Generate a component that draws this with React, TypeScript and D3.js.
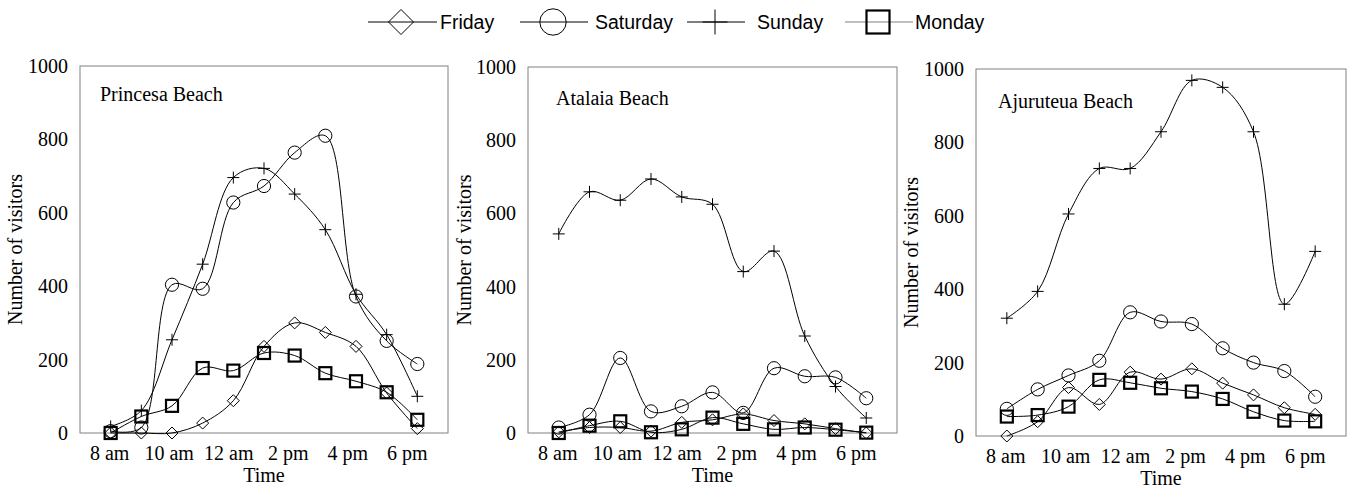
import React from "react";
import * as d3 from "d3";

const hours = ["8", "9", "10", "11", "12", "13", "14", "15", "16", "17", "18"];
const tickLabels = ["8 am", "10 am", "12 am", "2 pm", "4 pm", "6 pm"];
const yTicks = [0, 200, 400, 600, 800, 1000];
const seriesNames = ["Friday", "Saturday", "Sunday", "Monday"];
const beachNames = ["Princesa Beach", "Atalaia Beach", "Ajuruteua Beach"];

// Princesa Beach
const princesaFriday = [0, 0, 0, 27, 88, 236, 300, 274, 236, 109, 12];
const princesaSaturday = [5, 15, 404, 393, 628, 673, 764, 810, 372, 251, 188];
const princesaSunday = [18, 61, 254, 460, 696, 721, 651, 554, 378, 268, 100];
const princesaMonday = [0, 45, 74, 177, 170, 218, 211, 163, 141, 111, 36];

// Atalaia Beach
const atalaiaFriday = [3, 15, 15, 5, 29, 36, 52, 34, 25, 12, 0];
const atalaiaSaturday = [15, 50, 205, 59, 73, 111, 55, 177, 155, 152, 95];
const atalaiaSunday = [544, 659, 636, 694, 645, 625, 441, 497, 265, 127, 41];
const atalaiaMonday = [0, 20, 32, 2, 10, 42, 25, 10, 15, 9, 1];

// Ajuruteua Beach
const ajuruteuaFriday = [0, 39, 132, 86, 174, 155, 183, 144, 112, 77, 59];
const ajuruteuaSaturday = [74, 127, 165, 205, 337, 312, 305, 239, 200, 177, 107];
const ajuruteuaSunday = [321, 394, 605, 729, 729, 829, 969, 950, 829, 359, 503];
const ajuruteuaMonday = [53, 57, 80, 153, 145, 130, 121, 101, 66, 42, 40];

const beachData = [
  [princesaFriday, princesaSaturday, princesaSunday, princesaMonday],
  [atalaiaFriday, atalaiaSaturday, atalaiaSunday, atalaiaMonday],
  [ajuruteuaFriday, ajuruteuaSaturday, ajuruteuaSunday, ajuruteuaMonday],
];

const panels = [
  { left: 80, right: 448, top: 66, bottom: 433, titleX: 100, titleY: 101, yTitleX: 16 },
  { left: 528, right: 897, top: 67, bottom: 433, titleX: 556, titleY: 105, yTitleX: 465 },
  { left: 976, right: 1346, top: 69, bottom: 436, titleX: 998, titleY: 108, yTitleX: 912 },
];

const SERIF = "'Liberation Serif', 'Times New Roman', Times, serif";
const SANS = "'Liberation Sans', Arial, Helvetica, sans-serif";

function Marker({ kind, x, y, s }: { kind: number; x: number; y: number; s: number }) {
  if (kind === 0) {
    return (
      <path
        d={`M${x},${y - s}L${x + s},${y}L${x},${y + s}L${x - s},${y}Z`}
        fill="none"
        stroke="#000"
        strokeWidth={1}
      />
    );
  }
  if (kind === 1) {
    return <circle cx={x} cy={y} r={s * 1.1} fill="none" stroke="#000" strokeWidth={1} />;
  }
  if (kind === 2) {
    return (
      <path
        d={`M${x - s},${y}H${x + s}M${x},${y - s}V${y + s}`}
        stroke="#000"
        strokeWidth={1}
        fill="none"
      />
    );
  }
  return (
    <rect
      x={x - s}
      y={y - s}
      width={2 * s}
      height={2 * s}
      fill="none"
      stroke="#000"
      strokeWidth={2.2}
    />
  );
}

function Panel({ idx }: { idx: number }) {
  const p = panels[idx];
  const x = d3.scalePoint<string>().domain(hours).range([p.left, p.right]).padding(1);
  const y = d3.scaleLinear().domain([0, 1000]).range([p.bottom, p.top]);
  const first = x(hours[0]) as number;
  const last = x(hours[hours.length - 1]) as number;
  const xl = d3.scalePoint<string>().domain(tickLabels).range([first - 1, last - 10]);
  const line = d3
    .line<number>()
    .x((_, i) => x(hours[i]) as number)
    .y((v) => y(v))
    .curve(d3.curveCatmullRom.alpha(0.5));
  const series = beachData[idx];
  const cx = (p.left + p.right) / 2;
  return (
    <g>
      <rect
        x={p.left}
        y={p.top}
        width={p.right - p.left}
        height={p.bottom - p.top}
        fill="none"
        stroke="#808080"
        strokeWidth={1}
      />
      {yTicks.map((t) => (
        <text
          key={t}
          x={p.left - 12}
          y={y(t)}
          textAnchor="end"
          dominantBaseline="central"
          fontFamily={SERIF}
          fontSize={20}
        >
          {t}
        </text>
      ))}
      {tickLabels.map((lab) => (
        <text
          key={lab}
          x={xl(lab) as number}
          y={p.bottom + 27}
          textAnchor="middle"
          fontFamily={SERIF}
          fontSize={20}
        >
          {lab}
        </text>
      ))}
      <text x={cx} y={p.bottom + 49} textAnchor="middle" fontFamily={SERIF} fontSize={20}>
        Time
      </text>
      <text
        transform={`translate(${p.yTitleX + 6},${(p.top + p.bottom) / 2}) rotate(-90)`}
        textAnchor="middle"
        fontFamily={SERIF}
        fontSize={20}
      >
        Number of visitors
      </text>
      <text x={p.titleX} y={p.titleY} fontFamily={SERIF} fontSize={20}>
        {beachNames[idx]}
      </text>
      {series.map((vals, si) => (
        <path key={si} d={line(vals) || ""} fill="none" stroke="#000" strokeWidth={1} />
      ))}
      {series.map((vals, si) =>
        vals.map((v, i) => (
          <Marker key={`${si}-${i}`} kind={si} x={x(hours[i]) as number} y={y(v)} s={6} />
        ))
      )}
    </g>
  );
}

const legendItems = [
  { x1: 368, x2: 437, mx: 401, tx: 440 },
  { x1: 520, x2: 588, mx: 553, tx: 595 },
  { x1: 687, x2: 745, mx: 715, tx: 757 },
  { x1: 845, x2: 913, mx: 878, tx: 915 },
];

export default function App() {
  const ly = 22;
  return (
    <svg width={1350} height={491} style={{ display: "block", position: "absolute", left: 0, top: 0 }}>
      <rect width={1350} height={491} fill="#fff" />
      {legendItems.map((it, i) => (
        <g key={i}>
          <line
            x1={it.x1}
            x2={it.x2}
            y1={ly}
            y2={ly}
            stroke={i === 3 ? "#808080" : "#000"}
            strokeWidth={1}
          />
          <Marker kind={i} x={it.mx} y={ly} s={i === 1 ? 12 : i === 3 ? 11.5 : 12.5} />
          <text x={it.tx} y={ly} dominantBaseline="central" fontFamily={SANS} fontSize={19.5}>
            {seriesNames[i]}
          </text>
        </g>
      ))}
      {panels.map((_, i) => (
        <Panel key={i} idx={i} />
      ))}
    </svg>
  );
}
